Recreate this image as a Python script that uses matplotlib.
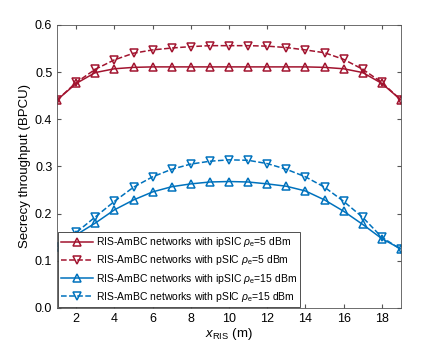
import numpy as np
import matplotlib
matplotlib.use("Agg")
import matplotlib.pyplot as plt

plt.rcParams['font.family'] = ['Liberation Sans', 'DejaVu Sans']
plt.rcParams['mathtext.fontset'] = 'custom'
plt.rcParams['mathtext.rm'] = 'Liberation Sans'
plt.rcParams['mathtext.it'] = 'Liberation Sans:italic'

x_ris = list(range(1, 20))

red_ipsic = [0.441, 0.476, 0.499, 0.507, 0.510, 0.511, 0.511, 0.511, 0.511, 0.511,
             0.511, 0.511, 0.511, 0.511, 0.510, 0.507, 0.499, 0.476, 0.441]
red_psic = [0.441, 0.478, 0.506, 0.526, 0.540, 0.547, 0.551, 0.554, 0.556, 0.556,
            0.556, 0.555, 0.552, 0.547, 0.541, 0.527, 0.506, 0.478, 0.441]
blue_ipsic = [0.130, 0.155, 0.180, 0.208, 0.229, 0.246, 0.257, 0.263, 0.267, 0.268,
              0.267, 0.263, 0.258, 0.248, 0.229, 0.205, 0.177, 0.147, 0.125]
blue_psic = [0.130, 0.160, 0.193, 0.226, 0.256, 0.278, 0.294, 0.305, 0.311, 0.314,
             0.313, 0.306, 0.294, 0.278, 0.256, 0.226, 0.192, 0.150, 0.124]

red = '#A2142F'
blue = '#0072BD'

fig = plt.figure(figsize=(4.43, 3.46), dpi=100)
ax = fig.add_axes([0.129, 0.110, 0.776, 0.818])

ax.plot(x_ris, red_ipsic, '-', color=red, marker='^', mfc='none', ms=6, mew=1.1, lw=1.1,
        label=r'RIS-AmBC networks with ipSIC $\rho_{\rm e}$=5 dBm')
ax.plot(x_ris, red_psic, '--', color=red, marker='v', mfc='none', ms=6, mew=1.1, lw=1.1,
        label=r'RIS-AmBC networks with pSIC $\rho_{\rm e}$=5 dBm')
ax.plot(x_ris, blue_ipsic, '-', color=blue, marker='^', mfc='none', ms=6, mew=1.1, lw=1.1,
        label=r'RIS-AmBC networks with ipSIC $\rho_{\rm e}$=15 dBm')
ax.plot(x_ris, blue_psic, '--', color=blue, marker='v', mfc='none', ms=6, mew=1.1, lw=1.1,
        label=r'RIS-AmBC networks with pSIC $\rho_{\rm e}$=15 dBm')

ax.set_xlim(1, 19)
ax.set_ylim(0, 0.6)
ax.set_xticks(range(2, 19, 2))
ax.set_yticks(np.arange(0, 0.61, 0.1))
ax.tick_params(direction='in', top=True, right=True, labelsize=9, length=3, color='#555555')
for s in ax.spines.values():
    s.set_color('#555555')
    s.set_linewidth(0.6)

ax.set_xlabel(r'$x_{\rm RIS}$ (m)', fontsize=9.5, labelpad=1)
ax.set_ylabel('Secrecy throughput (BPCU)', fontsize=9.5, labelpad=3)

leg = ax.legend(loc='lower left', fontsize=7.5, handlelength=3.0, borderaxespad=0.1,
                fancybox=False, edgecolor='#333333', framealpha=1, labelspacing=0.4,
                borderpad=0.3, handletextpad=0.3)
leg.get_frame().set_linewidth(0.6)

fig.savefig('out.png', dpi=100)
